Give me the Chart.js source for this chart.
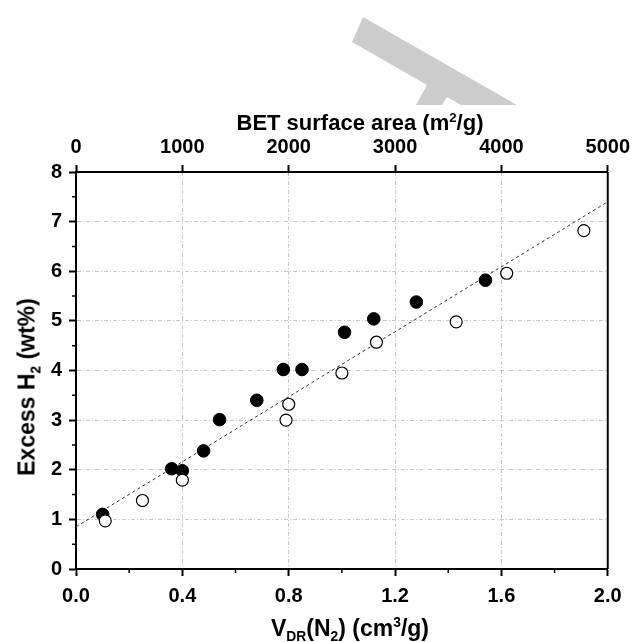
<!DOCTYPE html>
<html>
<head>
<meta charset="utf-8">
<script src="https://cdn.jsdelivr.net/npm/chart.js"></script>
<style>
  html, body { margin: 0; padding: 0; background: #fff; }
  #wrap { position: relative; width: 636px; height: 642px; overflow: hidden; }
  #stamp {
    position: absolute; left: 0; top: 0; width: 636px; height: 642px; background: #cccccc;
    clip-path: polygon(363px 17px, 517px 105px, 461px 105px, 447px 97px, 442px 105px, 416px 105px, 427px 85px, 352px 42px);
  }
  canvas { position: absolute; left: 0; top: 0; }
  .ttl {
    position: absolute; font-family: "Liberation Sans", Arial, sans-serif; font-weight: bold;
    font-size: 22px; color: #000; white-space: nowrap; transform: translate(-50%, -50%);
  }
  .ttl sup, .ttl sub { font-size: 60%; line-height: 0; }
  #ttl-left { font-size: 23px; transform: translate(-50%, -50%) rotate(-90deg); }
  #ttl-bottom { font-size: 23px; }
</style>
</head>
<body>
<div id="wrap">
  <div id="stamp"></div>
  <canvas id="chart" width="636" height="642"></canvas>
  <div class="ttl" id="ttl-top" style="left:360px; top:123px;">BET surface area (m<sup>2</sup>/g)</div>
  <div class="ttl" id="ttl-left" style="left:27px; top:387px;">Excess H<sub>2</sub> (wt%)</div>
  <div class="ttl" id="ttl-bottom" style="left:350px; top:628px;">V<sub>DR</sub>(N<sub>2</sub>) (cm<sup>3</sup>/g)</div>
</div>
<script>
// datos
const filledX = [0.10, 0.36, 0.40, 0.48, 0.54, 0.68, 0.78, 0.85, 1.01, 1.12, 1.28, 1.54];
const filledY = [1.10, 2.02, 1.98, 2.38, 3.01, 3.40, 4.02, 4.02, 4.77, 5.04, 5.38, 5.82];
const openX = [0.11, 0.25, 0.40, 0.79, 0.80, 1.00, 1.13, 1.43, 1.62, 1.91];
const openY = [0.97, 1.38, 1.79, 3.00, 3.32, 3.95, 4.57, 4.98, 5.96, 6.82];
const fitX = [0.0, 2.0];
const fitY = [0.85, 7.40];

// ejes
const xTicks = [0.0, 0.4, 0.8, 1.2, 1.6, 2.0];
const xMinor = [0.2, 0.6, 1.0, 1.4, 1.8];
const topTicks = [0, 1000, 2000, 3000, 4000, 5000];
const yTicks = [0, 1, 2, 3, 4, 5, 6, 7, 8];
const yMinor = [0.5, 1.5, 2.5, 3.5, 4.5, 5.5, 6.5, 7.5];

const pts = (xs, ys) => xs.map((x, i) => ({ x, y: ys[i] }));
const FONT = { family: '"Liberation Sans", Arial, sans-serif', size: 20, weight: 'bold' };
const GRID = '#c8c8c8';

// ticks menores + borde derecho
const extras = {
  id: 'extras',
  afterDraw(chart) {
    const { ctx, chartArea: a, scales } = chart;
    ctx.save();
    ctx.strokeStyle = '#000';
    ctx.lineWidth = 1.5;
    ctx.beginPath();
    yMinor.forEach(v => {
      const py = scales.y.getPixelForValue(v);
      ctx.moveTo(a.left - 4, py); ctx.lineTo(a.left, py);
    });
    xMinor.forEach(v => {
      const px = scales.x.getPixelForValue(v);
      ctx.moveTo(px, a.bottom); ctx.lineTo(px, a.bottom + 4);
    });
    ctx.stroke();
    ctx.lineWidth = 2;
    ctx.beginPath();
    ctx.moveTo(a.right, a.top); ctx.lineTo(a.right, a.bottom);
    ctx.stroke();
    ctx.restore();
  }
};

const axisCommon = (extra) => Object.assign({
  type: 'linear',
  border: { display: true, color: '#000', width: 2, dash: [4, 2, 1, 2] },
  grid: { color: GRID, lineWidth: 1, tickColor: '#000', tickLength: 7, tickWidth: 2, tickBorderDash: [] },
  ticks: { color: '#000', font: FONT, maxRotation: 0, autoSkip: false }
}, extra);

new Chart(document.getElementById('chart'), {
  type: 'scatter',
  data: {
    datasets: [
      {
        label: 'open',
        data: pts(openX, openY),
        pointRadius: 6, pointHoverRadius: 6,
        pointBackgroundColor: '#fff', pointBorderColor: '#000', pointBorderWidth: 1.2,
        order: 0
      },
      {
        label: 'filled',
        data: pts(filledX, filledY),
        pointRadius: 6.3, pointHoverRadius: 6.3,
        pointBackgroundColor: '#000', pointBorderColor: '#000', pointBorderWidth: 1,
        order: 1
      },
      {
        label: 'fit',
        type: 'line',
        data: pts(fitX, fitY),
        showLine: true, pointRadius: 0,
        borderColor: '#333', borderWidth: 1, borderDash: [3, 3],
        order: 2
      }
    ]
  },
  options: {
    responsive: false,
    animation: false,
    devicePixelRatio: 1,
    layout: { padding: { left: 0, right: 27, top: 0, bottom: 0 } },
    plugins: { legend: { display: false }, tooltip: { enabled: false } },
    scales: {
      x: axisCommon({
        position: 'bottom', min: 0, max: 2,
        afterBuildTicks: s => { s.ticks = xTicks.map(v => ({ value: v })); },
        ticks: { color: '#000', font: FONT, padding: 8, maxRotation: 0, autoSkip: false,
          callback: v => Number(v).toFixed(1) },
        afterFit: s => { s.height = 73; }
      }),
      x2: axisCommon({
        position: 'top', min: 0, max: 5000,
        afterBuildTicks: s => { s.ticks = topTicks.map(v => ({ value: v })); },
        grid: { drawOnChartArea: false, tickColor: '#000', tickLength: 7, tickWidth: 2 },
        ticks: { color: '#000', font: FONT, padding: 6, maxRotation: 0, autoSkip: false,
          callback: v => String(v) },
        afterFit: s => { s.height = 172; }
      }),
      y: axisCommon({
        position: 'left', min: 0, max: 8,
        afterBuildTicks: s => { s.ticks = yTicks.map(v => ({ value: v })); },
        ticks: { color: '#000', font: FONT, padding: 7, callback: v => String(v) },
        afterFit: s => { s.width = 76; }
      })
    }
  },
  plugins: [extras]
});
</script>
</body>
</html>
